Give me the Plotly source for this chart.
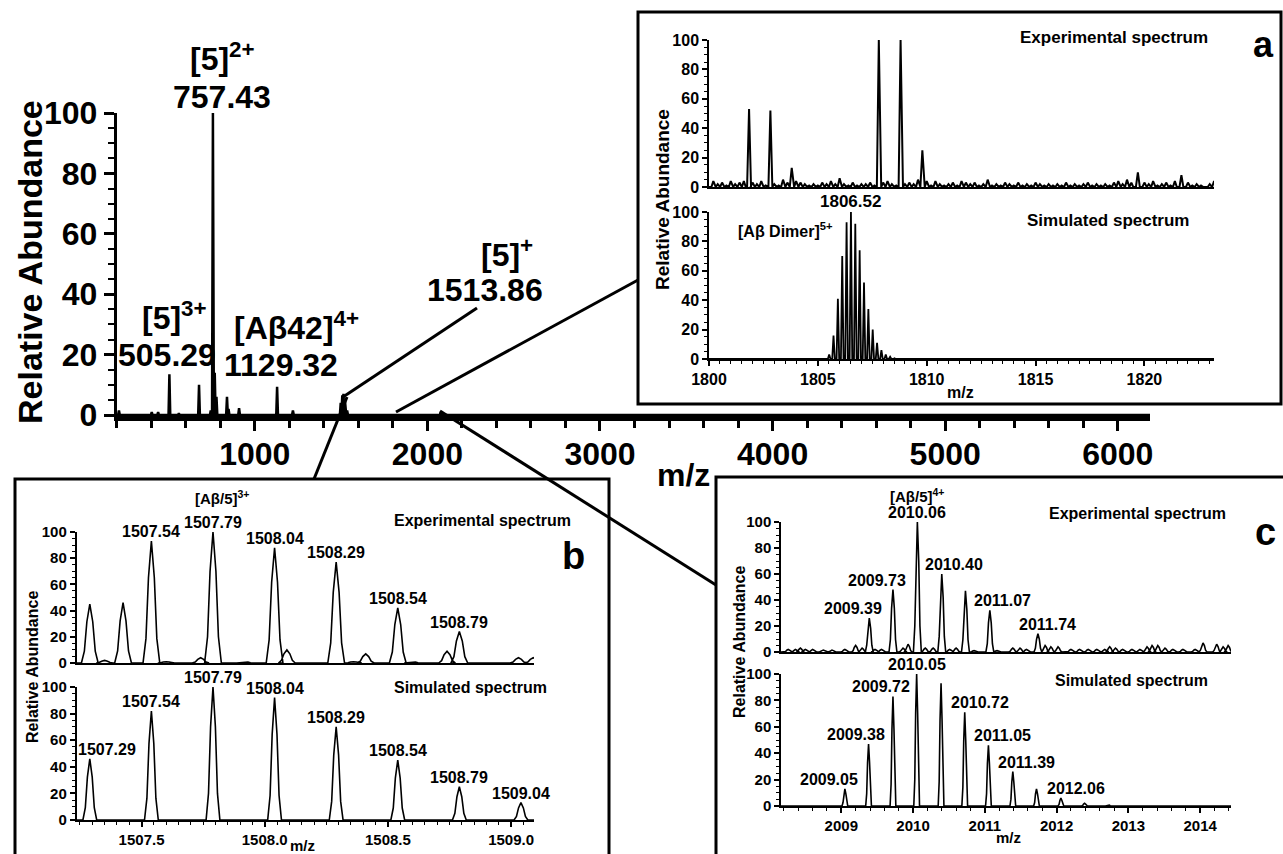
import plotly.graph_objects as go

W, H = 1283, 854
FONT = "Liberation Sans, Arial, sans-serif"

# ---------------- data ----------------
# main spectrum (sticks)
main_mz = [213, 403, 440, 505.29, 560, 677, 745, 757.43, 768, 778, 839, 848, 909,
           1129.32, 1221, 1498, 1507, 1513.86, 1522, 1535, 2077]
main_int = [1.5, 1, 1, 13.5, 0.5, 10, 1.5, 100, 14, 6, 6, 2, 2.3,
            9.3, 1.5, 4, 6.5, 7, 5, 1.5, 1]
main_xticks = [1000, 2000, 3000, 4000, 5000, 6000]

# panel a - experimental
a_exp_mz = [1801.84, 1802.82, 1803.80, 1807.80, 1808.80, 1809.80, 1819.70, 1821.70]
a_exp_int = [53, 52, 13, 100, 100, 25, 10, 8]
a_noise_start = 1800.2
a_noise_step = 0.2
a_noise_int = [4, 2, 3, 1, 4, 2, 3, 4, 2, 3,
               2, 4, 1, 3, 2, 1, 5, 3, 2, 4,
               3, 2, 1, 2, 1, 3, 2, 4, 2, 6,
               2, 1, 3, 1, 2, 2, 3, 1, 2, 3,
               4, 2, 1, 4, 2, 3, 2, 5, 1, 4,
               1, 4, 2, 1, 2, 3, 1, 4, 3, 2,
               3, 1, 2, 5, 1, 2, 1, 3, 2, 1,
               3, 1, 2, 1, 3, 2, 1, 2, 1, 2,
               1, 3, 1, 2, 1, 2, 3, 1, 2, 1,
               2, 1, 3, 4, 2, 5, 3, 2, 4, 3,
               2, 4, 1, 2, 3, 1, 4, 2, 1, 3,
               1, 2, 1, 0, 2, 4]
# panel a - simulated
a_sim_mz = [1805.52, 1805.72, 1805.92, 1806.12, 1806.32, 1806.52, 1806.72, 1806.92,
            1807.12, 1807.32, 1807.52, 1807.72, 1807.92, 1808.12, 1808.32, 1808.52]
a_sim_int = [3, 16, 41, 70, 93, 100, 92, 74, 52, 34, 20, 11, 6, 3, 1.5, 0.5]

# panel b
b_exp_mz = [1507.29, 1507.35, 1507.425, 1507.54, 1507.60, 1507.74, 1507.79, 1507.92,
            1508.04, 1508.09, 1508.29, 1508.36, 1508.41, 1508.54, 1508.60, 1508.74,
            1508.79, 1509.03, 1509.09]
b_exp_int = [45, 2, 46, 93, 1, 4, 100, 1, 88, 10, 77, 1, 7, 42, 1, 9, 24, 4, 4]
b_exp_labels = [(1507.54, 93, "1507.54"), (1507.79, 100, "1507.79"), (1508.04, 88, "1508.04"),
                (1508.29, 77, "1508.29"), (1508.54, 42, "1508.54"), (1508.79, 24, "1508.79")]
b_sim_mz = [1507.29, 1507.54, 1507.79, 1508.04, 1508.29, 1508.54, 1508.79, 1509.04]
b_sim_int = [46, 82, 100, 92, 70, 45, 25, 13]
b_sim_labels = ["1507.29", "1507.54", "1507.79", "1508.04", "1508.29", "1508.54", "1508.79", "1509.04"]
b_xticks = [1507.5, 1508.0, 1508.5, 1509.0]

# panel c
c_exp_mz = [2008.26, 2008.36, 2008.43, 2008.50, 2008.60, 2008.75, 2008.87, 2009.05, 2009.20,
            2009.29, 2009.39, 2009.47, 2009.56, 2009.72, 2009.86, 2009.93, 2010.06, 2010.17,
            2010.28, 2010.40, 2010.51, 2010.60, 2010.73, 2010.85, 2011.07, 2011.17, 2011.39,
            2011.49, 2011.58, 2011.74, 2011.84, 2011.92, 2012.02, 2012.20, 2012.32, 2012.44,
            2012.56, 2012.67, 2012.74, 2012.82, 2012.92, 2013.05, 2013.16, 2013.26, 2013.33,
            2013.41, 2013.51, 2013.62, 2013.76, 2013.93, 2014.04, 2014.23, 2014.32, 2014.39]
c_exp_int = [2, 2, 3, 2, 2, 1.5, 1.5, 2, 5,
             3, 26, 2, 2, 48, 3, 6, 100, 3,
             3, 60, 2, 3, 47, 1, 32, 1, 3,
             3, 2, 14, 5, 4, 4, 2, 2, 2,
             2, 2, 4, 3, 2, 2, 2, 4, 5,
             5, 3, 2, 2, 2, 7, 6, 4, 5]
c_exp_labels = [(2009.39, 26, "2009.39", -16), (2009.73, 48, "2009.73", -17),
                (2010.06, 100, "2010.06", 0), (2010.40, 60, "2010.40", 12),
                (2011.07, 32, "2011.07", 13), (2011.74, 14, "2011.74", 10)]
c_sim_mz = [2009.05, 2009.38, 2009.72, 2010.05, 2010.39, 2010.72, 2011.05, 2011.39,
            2011.72, 2012.06, 2012.39, 2012.72]
c_sim_int = [13, 47, 83, 100, 93, 71, 46, 26, 13, 6, 2, 1]
c_sim_labels = [(2009.05, 13, "2009.05", -16), (2009.38, 47, "2009.38", -13),
                (2009.72, 83, "2009.72", -12), (2010.05, 100, "2010.05", 0),
                (2010.72, 71, "2010.72", 15), (2011.05, 46, "2011.05", 14),
                (2011.39, 26, "2011.39", 14), (2012.06, 6, "2012.06", 15)]
c_xticks = [2009, 2010, 2011, 2012, 2013, 2014]

# ---------------- helpers ----------------
SHARP = ([-1, 0, 1], [0, 1, 0])
ROUND = ([-1, -0.65, -0.35, 0, 0.35, 0.65, 1], [0, 0.2, 0.7, 1, 0.7, 0.2, 0])


def profile(mz, inten, hw, shape, lo, hi):
    offs, facs = shape
    xs, ys = [lo], [0]
    for m, h in sorted(zip(mz, inten)):
        for o, f in zip(offs, facs):
            xs.append(m + o * hw)
            ys.append(h * f)
    xs.append(hi)
    ys.append(0)
    return xs, ys


def X(p):
    return p / W


def Y(p):
    return 1 - p / H


fig = go.Figure()

# ranges
MAIN_RANGE = [200, 200 + (1150 - 116.7) / 0.1726]
A_RANGE = [1800, 1800 + (1214 - 709) / 21.77]
B_RANGE = [1507.236, 1509.093]
C_RANGE = [2008.16, 2014.43]

# main
x, y = profile(main_mz, main_int, 5, SHARP, *MAIN_RANGE)
fig.add_trace(go.Scatter(x=x, y=y, mode="lines", line=dict(color="black", width=2.5),
                         xaxis="x", yaxis="y", hoverinfo="skip"))

# panel a
a_all = sorted([(a_noise_start + i * a_noise_step, v) for i, v in enumerate(a_noise_int)
                if all(abs(a_noise_start + i * a_noise_step - m) > 0.12 for m in a_exp_mz)]
               + list(zip(a_exp_mz, a_exp_int)))
x, y = profile([p[0] for p in a_all], [p[1] for p in a_all], 0.09, SHARP, *A_RANGE)
fig.add_trace(go.Scatter(x=x, y=y, mode="lines", line=dict(color="black", width=2),
                         xaxis="x2", yaxis="y2", hoverinfo="skip"))
x, y = profile(a_sim_mz, a_sim_int, 0.06, SHARP, *A_RANGE)
fig.add_trace(go.Scatter(x=x, y=y, mode="lines", line=dict(color="black", width=1.8),
                         xaxis="x3", yaxis="y3", hoverinfo="skip"))

# panel b
x, y = profile(b_exp_mz, b_exp_int, 0.034, ROUND, *B_RANGE)
fig.add_trace(go.Scatter(x=x, y=y, mode="lines", line=dict(color="black", width=1.6),
                         xaxis="x4", yaxis="y4", hoverinfo="skip"))
x, y = profile(b_sim_mz, b_sim_int, 0.028, ROUND, *B_RANGE)
fig.add_trace(go.Scatter(x=x, y=y, mode="lines", line=dict(color="black", width=1.6),
                         xaxis="x5", yaxis="y5", hoverinfo="skip"))

# panel c
x, y = profile(c_exp_mz, c_exp_int, 0.055, ROUND, *C_RANGE)
fig.add_trace(go.Scatter(x=x, y=y, mode="lines", line=dict(color="black", width=1.6),
                         xaxis="x6", yaxis="y6", hoverinfo="skip"))
x, y = profile(c_sim_mz, c_sim_int, 0.04, ROUND, *C_RANGE)
fig.add_trace(go.Scatter(x=x, y=y, mode="lines", line=dict(color="black", width=1.6),
                         xaxis="x7", yaxis="y7", hoverinfo="skip"))

# ---------------- axes ----------------
Y_TICKS = [0, 20, 40, 60, 80, 100]


def yax(top, bottom, anchor, size=15):
    return dict(domain=[Y(bottom), Y(top)], range=[0, 100], tickvals=Y_TICKS,
                showline=True, linecolor="black", linewidth=1.5, ticks="outside",
                ticklen=5, tickwidth=1.5, tickcolor="black",
                minor=dict(dtick=5, tick0=0, ticks="outside", ticklen=3, tickwidth=1, tickcolor="black"),
                showgrid=False, zeroline=False, anchor=anchor, automargin=False,
                tickfont=dict(size=size, family=FONT, weight="bold", color="black"))


def xax_top(left, right, rng, anchor):
    return dict(domain=[X(left), X(right)], range=rng, showline=True, linecolor="black",
                linewidth=1.5, ticks="", showticklabels=False, showgrid=False,
                zeroline=False, anchor=anchor, automargin=False)


def xax_bot(left, right, rng, anchor, tickvals, ticktext, minor_dtick, minor_tick0, size=15):
    return dict(domain=[X(left), X(right)], range=rng, showline=True, linecolor="black",
                linewidth=1.5, ticks="outside", ticklen=5, tickwidth=1.5, tickcolor="black",
                tickvals=tickvals, ticktext=ticktext,
                minor=dict(dtick=minor_dtick, tick0=minor_tick0, ticks="outside", ticklen=3,
                           tickwidth=1, tickcolor="black"),
                showgrid=False, zeroline=False, anchor=anchor, automargin=False,
                tickfont=dict(size=size, family=FONT, weight="bold", color="black"))


layout = dict(
    width=W, height=H, autosize=False,
    margin=dict(l=0, r=0, t=0, b=0, pad=0),
    paper_bgcolor="white", plot_bgcolor="rgba(0,0,0,0)",
    showlegend=False,
    font=dict(family=FONT, color="black", weight="bold"),
    xaxis=dict(domain=[X(116.7), X(1150)], range=MAIN_RANGE, showline=True, linecolor="black",
               linewidth=6, ticks="outside", ticklen=10, tickwidth=3, tickcolor="black",
               tickvals=main_xticks, ticklabelstandoff=-4,
               minor=dict(dtick=200, tick0=200, ticks="outside", ticklen=7, tickwidth=3,
                          tickcolor="black"),
               showgrid=False, zeroline=False, anchor="y", automargin=False,
               tickfont=dict(size=32, family=FONT, weight="bold", color="black")),
    yaxis=dict(domain=[Y(415), Y(113)], range=[0, 100], tickvals=Y_TICKS, showline=True,
               linecolor="black", linewidth=3, ticks="outside", ticklen=10, tickwidth=3,
               tickcolor="black",
               minor=dict(dtick=5, tick0=0, ticks="outside", ticklen=6, tickwidth=2,
                          tickcolor="black"),
               showgrid=False, zeroline=False, anchor="x", automargin=False,
               tickfont=dict(size=32, family=FONT, weight="bold", color="black")),
    xaxis2=xax_top(709, 1214, A_RANGE, "y2"),
    yaxis2=yax(40, 187, "x2", 16),
    xaxis3=xax_bot(709, 1214, A_RANGE, "y3", [1800, 1805, 1810, 1815, 1820],
                   ["1800", "1805", "1810", "1815", "1820"], 0.5, 1800, 16),
    yaxis3=yax(212, 359, "x3", 16),
    xaxis4=xax_top(76.5, 534, B_RANGE, "y4"),
    yaxis4=yax(532, 663, "x4"),
    xaxis5=xax_bot(76.5, 534, B_RANGE, "y5", b_xticks, [f"{v:.1f}" for v in b_xticks],
                   0.05, 1507.25),
    yaxis5=yax(687, 820, "x5"),
    xaxis6=xax_top(781, 1231, C_RANGE, "y6"),
    yaxis6=yax(522, 652, "x6"),
    xaxis7=xax_bot(781, 1231, C_RANGE, "y7", c_xticks, [str(v) for v in c_xticks], 0.2, 2008),
    yaxis7=yax(674, 806, "x7"),
)
fig.update_layout(**layout)

# ---------------- shapes ----------------
shapes = []


def rect(x0, y0, x1, y1):
    shapes.append(dict(type="rect", xref="paper", yref="paper", x0=X(x0), x1=X(x1),
                       y0=Y(y1), y1=Y(y0), line=dict(color="black", width=3),
                       fillcolor="rgba(0,0,0,0)", layer="above"))


def seg(x0, y0, x1, y1, w=3):
    shapes.append(dict(type="line", xref="paper", yref="paper", x0=X(x0), x1=X(x1),
                       y0=Y(y0), y1=Y(y1), line=dict(color="black", width=w), layer="above"))


rect(638, 12, 1281, 404)
rect(15, 479, 609, 880)
rect(716, 477, 1320, 880)
seg(343, 397, 477, 308)
seg(396, 412, 638, 280)
seg(347, 397, 314, 479)
seg(440, 411, 716, 585)
fig.update_layout(shapes=shapes)

# ---------------- annotations ----------------
anns = []


def txt(text, xp, yp, size, angle=0):
    anns.append(dict(text=text, x=X(xp), y=Y(yp), xref="paper", yref="paper",
                     xanchor="center", yanchor="middle", showarrow=False, textangle=angle,
                     font=dict(size=size, family=FONT, weight="bold", color="black")))


def plab(text, mz, h, xr, yr, size=16, xshift=0):
    anns.append(dict(text=text, x=mz, y=h, xref=xr, yref=yr, xanchor="center",
                     yanchor="bottom", showarrow=False, xshift=xshift, yshift=-1,
                     font=dict(size=size, family=FONT, weight="bold", color="black")))


# main
txt("[5]<sup>2+</sup>", 222, 57, 32)
txt("757.43", 222, 97, 32)
txt("[5]<sup>3+</sup>", 175, 316, 32)
txt("505.29", 167, 355, 32)
txt("[Aβ42]<sup>4+</sup>", 296, 326, 32)
txt("1129.32", 281, 365, 32)
txt("[5]<sup>+</sup>", 507, 253, 32)
txt("1513.86", 485, 290, 32)
txt("Relative Abundance", 30, 262, 34, -90)
txt("m/z", 683, 475, 32)

# panel a
txt("Experimental spectrum", 1114, 37, 17)
txt("Simulated spectrum", 1108, 220, 17)
txt("a", 1263, 45, 36)
txt("[Aβ Dimer]<sup>5+</sup>", 785, 230, 16)
txt("Relative Abundance", 662, 200, 19, -90)
txt("m/z", 960, 392, 16)
plab("1806.52", 1806.52, 100, "x3", "y3", 17)

# panel b
txt("[Aβ/5]<sup>3+</sup>", 222, 497, 15)
txt("Experimental spectrum", 482, 520, 16)
txt("Simulated spectrum", 471, 687, 16)
txt("b", 573, 556, 38)
txt("Relative Abundance", 32, 667, 16, -90)
txt("m/z", 302, 845, 15)
for m, h, t in b_exp_labels:
    plab(t, m, h, "x4", "y4")
for m, h, t in zip(b_sim_mz, b_sim_int, b_sim_labels):
    plab(t, m, h, "x5", "y5", xshift=17 if t == "1507.29" else 0)

# panel c
txt("[Aβ/5]<sup>4+</sup>", 917, 495, 15)
txt("Experimental spectrum", 1137, 513, 16)
txt("Simulated spectrum", 1131, 680, 16)
txt("c", 1265, 532, 38)
txt("Relative Abundance", 739, 642, 16, -90)
txt("m/z", 1008, 837, 15)
for m, h, t, s in c_exp_labels:
    plab(t, m, h, "x6", "y6", xshift=s)
for m, h, t, s in c_sim_labels:
    plab(t, m, h, "x7", "y7", xshift=s)

fig.update_layout(annotations=anns)

fig.write_html("out.html")
